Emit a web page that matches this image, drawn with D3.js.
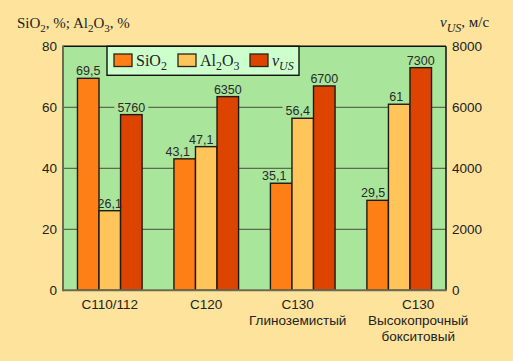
<!DOCTYPE html>
<html><head><meta charset="utf-8">
<script src="https://cdn.jsdelivr.net/npm/d3@7"></script>
<style>
body{margin:0;background:#fde39c;}
svg{display:block;}
</style></head>
<body>
<svg id="c" width="513" height="361"></svg>
<script>
// ---- data ----
const categories = ["C110/112", "C120", "C130\nГлиноземистый", "C130\nВысокопрочный\nбокситовый"];
const series = ["SiO2", "Al2O3", "vUS"];
const sio2 = [69.5, 43.1, 35.1, 29.5];
const al2o3 = [26.1, 47.1, 56.4, 61];
const vus = [5760, 6350, 6700, 7300];
const leftTicks = [0, 20, 40, 60, 80];
const rightTicks = [0, 2000, 4000, 6000, 8000];

// ---- layout / style ----
const colors = {SiO2: "#ff7f17", Al2O3: "#ffc45a", vUS: "#dd4400"};
const plotBg = "#a9e59b";
const L = 63, R = 446, T = 46.3, B = 290.3;
const catDx = [0, 0, -5, 19];
const labelDx = {SiO2: [0, -7, -7, -4.5], Al2O3: [0, -5, -5, -3], vUS: [0, 0, 0, 0]};
const font = "Liberation Sans, Arial, sans-serif";
const serif = "Liberation Serif, Times New Roman, serif";

const svg = d3.select("#c");
const x0 = d3.scaleBand().domain(categories).range([L, R]).paddingInner(0.33).paddingOuter(0.15);
const x1 = d3.scaleBand().domain(series).range([0, x0.bandwidth()]);
const yL = d3.scaleLinear().domain([0, 80]).range([B, T]);
const yR = d3.scaleLinear().domain([0, 8000]).range([B, T]);

// plot background
svg.append("rect").attr("x", L).attr("y", T).attr("width", R - L).attr("height", B - T).attr("fill", plotBg);

// grid lines
svg.append("g").selectAll("line").data(leftTicks.filter(d => d > 0 && d < 80)).join("line")
  .attr("x1", L).attr("x2", R).attr("y1", d => yL(d)).attr("y2", d => yL(d))
  .attr("stroke", "#5c6e4e").attr("stroke-width", 1.3);

const bgLayer = svg.append("g");

// rows
const rows = categories.map((c, i) => ({c, i, vals: [
  {s: "SiO2", i, v: sio2[i], y: yL(sio2[i]), t: String(sio2[i]).replace(".", ",")},
  {s: "Al2O3", i, v: al2o3[i], y: yL(al2o3[i]), t: String(al2o3[i]).replace(".", ",")},
  {s: "vUS", i, v: vus[i], y: yR(vus[i]), t: String(vus[i])}
]}));
const flat = rows.flatMap(r => r.vals.map(v => Object.assign({c: r.c}, v)));

// bars
svg.append("g").selectAll("rect").data(flat).join("rect")
  .attr("x", d => x0(d.c) + x1(d.s)).attr("width", x1.bandwidth())
  .attr("y", d => d.y).attr("height", d => B - d.y)
  .attr("fill", d => colors[d.s]).attr("stroke", "#1e1a14").attr("stroke-width", 1.4);

// value labels
const texts = svg.append("g").selectAll("text").data(flat).join("text")
  .attr("x", d => x0(d.c) + x1(d.s) + x1.bandwidth() / 2 + labelDx[d.s][d.i])
  .attr("y", d => d.y - 3)
  .attr("text-anchor", "middle").attr("font-family", font)
  .attr("font-size", 12.5).attr("fill", "#2a2a2a").text(d => d.t);
texts.each(function() {
  const bb = this.getBBox();
  bgLayer.append("rect").attr("x", bb.x - 3).attr("y", bb.y).attr("width", bb.width + 6).attr("height", bb.height).attr("fill", plotBg);
});

// frame
svg.append("line").attr("x1", L).attr("x2", R).attr("y1", T).attr("y2", T).attr("stroke", "#111").attr("stroke-width", 1.5);
svg.append("line").attr("x1", R).attr("x2", R).attr("y1", T).attr("y2", B).attr("stroke", "#111").attr("stroke-width", 1.5);
svg.append("line").attr("x1", L).attr("x2", L).attr("y1", T - 0.7).attr("y2", B + 1).attr("stroke", "#6b6b52").attr("stroke-width", 2);
svg.append("line").attr("x1", L).attr("x2", R + 0.7).attr("y1", B).attr("y2", B).attr("stroke", "#6b6b52").attr("stroke-width", 2);

// axes tick labels
svg.append("g").selectAll("text").data(leftTicks).join("text")
  .attr("x", 57).attr("y", d => yL(d) + 5).attr("text-anchor", "end")
  .attr("font-family", font).attr("font-size", 13.5).attr("fill", "#222").text(d => d);
svg.append("g").selectAll("text").data(rightTicks).join("text")
  .attr("x", 452).attr("y", d => yR(d) + 5).attr("text-anchor", "start")
  .attr("font-family", font).attr("font-size", 13.5).attr("fill", "#222").text(d => d);

// category labels
svg.append("g").selectAll("text").data(categories).join("text")
  .attr("x", (d, i) => x0(d) + x0.bandwidth() / 2 + catDx[i]).attr("y", 309)
  .attr("text-anchor", "middle").attr("font-family", font).attr("font-size", 13.5).attr("fill", "#222")
  .each(function(d) {
    const el = d3.select(this);
    const x = el.attr("x");
    d.split("\n").forEach((line, k) => {
      el.append("tspan").attr("x", x).attr("dy", k === 0 ? 0 : 15.8).text(line);
    });
  });

// axis titles
const lt = svg.append("text").attr("x", 17).attr("y", 28).attr("font-family", serif).attr("font-size", 15).attr("fill", "#222");
lt.append("tspan").text("SiO");
lt.append("tspan").attr("dy", 4).attr("font-size", 11).text("2");
lt.append("tspan").attr("dy", -4).text(", %; Al");
lt.append("tspan").attr("dy", 4).attr("font-size", 11).text("2");
lt.append("tspan").attr("dy", -4).text("O");
lt.append("tspan").attr("dy", 4).attr("font-size", 11).text("3");
lt.append("tspan").attr("dy", -4).text(", %");

const rt = svg.append("text").attr("x", 440).attr("y", 27).attr("font-family", serif).attr("font-size", 15).attr("fill", "#222");
rt.append("tspan").attr("font-style", "italic").text("v");
rt.append("tspan").attr("dy", 5).attr("font-size", 12).attr("font-style", "italic").text("US");
rt.append("tspan").attr("dy", -5).text(", м/с");

// legend
const lg = svg.append("g");
lg.append("rect").attr("x", 107).attr("y", T).attr("width", 192).attr("height", 29).attr("fill", "#ccffcc").attr("stroke", "#111").attr("stroke-width", 1.4);
const legX = [114, 178, 250];
series.forEach((s, i) => {
  lg.append("rect").attr("x", legX[i]).attr("y", 54).attr("width", 18).attr("height", 12.5)
    .attr("fill", colors[s]).attr("stroke", "#2a2418").attr("stroke-width", 1.3);
  const t = lg.append("text").attr("x", legX[i] + 22).attr("y", 66).attr("font-family", serif).attr("font-size", 16).attr("fill", "#222");
  if (s === "SiO2") {
    t.append("tspan").text("SiO");
    t.append("tspan").attr("dy", 4).attr("font-size", 12).text("2");
  } else if (s === "Al2O3") {
    t.append("tspan").text("Al");
    t.append("tspan").attr("dy", 4).attr("font-size", 12).text("2");
    t.append("tspan").attr("dy", -4).text("O");
    t.append("tspan").attr("dy", 4).attr("font-size", 12).text("3");
  } else {
    t.append("tspan").attr("font-style", "italic").text("v");
    t.append("tspan").attr("dy", 4).attr("font-size", 12).attr("font-style", "italic").text("US");
  }
});
</script>
</body></html>
